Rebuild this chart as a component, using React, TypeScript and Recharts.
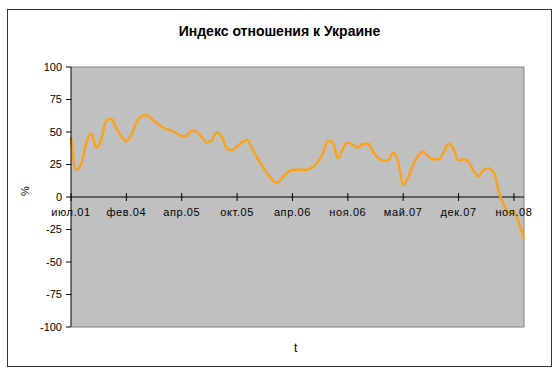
import { LineChart, Line, XAxis, YAxis, CartesianGrid, ReferenceLine } from 'recharts'

// survey index, one value per point
const attitudeIndex = [
  46, 21, 25, 41, 49, 38, 44, 59, 60, 53,
  47, 43, 48, 57, 62, 63, 60, 57, 54, 52,
  51, 49, 47, 47, 51, 50, 46, 42, 44, 50,
  46, 37, 36, 39, 42, 44, 37, 30, 24, 18,
  13, 11, 15, 19, 21, 21, 21, 21, 23, 27,
  33, 43, 42, 30, 37, 42, 40, 38, 41, 41,
  35, 30, 28, 28, 34, 27, 9, 15, 25, 32,
  35, 31, 29, 29, 34, 41, 37, 28, 29, 27,
  20, 16, 21, 22, 19, 4, -6, -12, -11, -20,
  -32,
]
const periodLabels = ['июл.01', 'фев.04', 'апр.05', 'окт.05', 'апр.06', 'ноя.06', 'май.07', 'дек.07', 'ноя.08']
const labelStep = 11
const yTicks = [-100, -75, -50, -25, 0, 25, 50, 75, 100]

const data = attitudeIndex.map((v, i) => ({ i, v }))
const xTicks = periodLabels.map((_, k) => k * labelStep)

const W = 543
const H = 356
const M = { top: 57, right: 27, bottom: 38, left: 0 }
const PLOT_H = H - M.top - M.bottom - 1
const FONT = '"Liberation Sans", Arial, sans-serif'

function XTick(props: any) {
  const { x, y, payload } = props
  const zeroY = y - PLOT_H / 2 // axis crosses at 0
  return (
    <g>
      <line x1={x} x2={x} y1={zeroY - 4} y2={zeroY + 4} stroke="#000" />
      <text x={x} y={zeroY + 19} textAnchor="middle" fontSize={11} letterSpacing={0.6} fill="#000" fontFamily={FONT}>
        {periodLabels[Math.round(payload.value / labelStep)]}
      </text>
    </g>
  )
}

export default function App() {
  return (
    <div
      style={{
        position: 'absolute',
        left: 7,
        top: 9,
        width: W + 2,
        height: H + 2,
        boxSizing: 'border-box',
        border: '1px solid #333',
        background: '#fff',
        fontFamily: FONT,
      }}
    >
      <div style={{ position: 'absolute', top: 13, left: 0, width: '100%', textAlign: 'center', fontWeight: 'bold', fontSize: 14 }}>
        Индекс отношения к Украине
      </div>
      <LineChart width={W} height={H} margin={M} data={data}>
        <CartesianGrid horizontal={false} vertical={false} fill="#C0C0C0" fillOpacity={1} />
        <ReferenceLine y={100} stroke="#808080" />
        <ReferenceLine y={-100} stroke="#808080" />
        <ReferenceLine x={90} stroke="#808080" />
        <XAxis
          type="number"
          dataKey="i"
          domain={[0, 90]}
          ticks={xTicks}
          interval={0}
          axisLine={false}
          tickLine={false}
          tickSize={0}
          tickMargin={0}
          height={1}
          tick={<XTick />}
        />
        <YAxis
          domain={[-100, 100]}
          ticks={yTicks}
          interval={0}
          width={63}
          tickSize={5}
          tickMargin={4}
          axisLine={{ stroke: '#000' }}
          tickLine={{ stroke: '#000' }}
          tick={{ fill: '#000', fontSize: 11, fontFamily: FONT }}
        />
        <ReferenceLine y={0} stroke="#000" />
        <Line
          type="monotone"
          dataKey="v"
          stroke="#F9A21E"
          strokeWidth={2.5}
          dot={false}
          isAnimationActive={false}
        />
      </LineChart>
      <div style={{ position: 'absolute', left: 12, top: 175, fontSize: 11, transform: 'rotate(-90deg)' }}>%</div>
      <div style={{ position: 'absolute', left: 286, top: 331, fontSize: 12 }}>t</div>
    </div>
  )
}
